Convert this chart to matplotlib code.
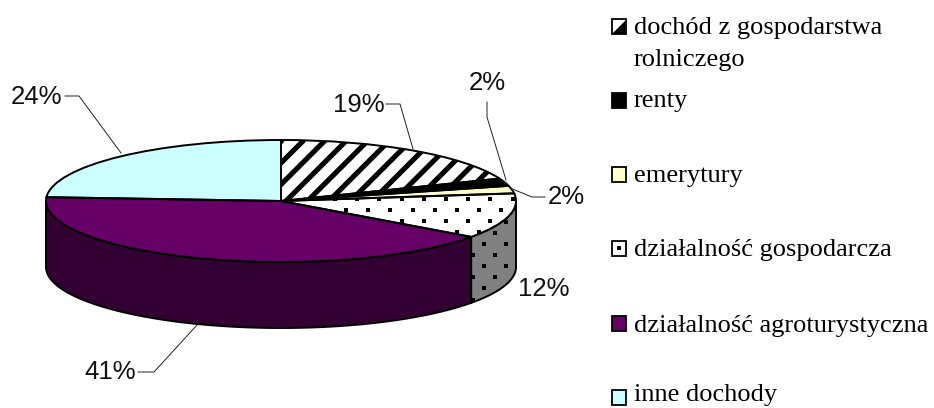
import numpy as np
import matplotlib
matplotlib.use('Agg')
import matplotlib.pyplot as plt
from matplotlib.patches import Rectangle

labels = ['dochód z gospodarstwa\nrolniczego', 'renty', 'emerytury',
          'działalność gospodarcza', 'działalność agroturystyczna', 'inne dochody']
values = [19, 2, 2, 12, 41, 24]
top_colors = ['#FFFFFF', '#000000', '#FFFFCC', '#FFFFFF', '#660066', '#CCFFFF']
side_colors = ['#808080', '#000000', '#808080', '#808080', '#330033', '#668080']

W, H = 934, 408
CX, CY, A, B, D = 281, 201, 235, 61, 66

fig = plt.figure(figsize=(W / 100, H / 100), dpi=100)
ax = fig.add_axes([0, 0, 1, 1])


def X(px):
    return (np.asarray(px, float) - CX) / A


def Y(py):
    return (CY - np.asarray(py, float)) / B


# side walls (only the arcs facing the viewer)
cum = np.concatenate([[0], np.cumsum(values)]) / sum(values) * 360
side_polys = {}
for i in range(len(values)):
    lo, hi = max(cum[i], 90), min(cum[i + 1], 270)
    if hi <= lo:
        continue
    t = np.radians(np.linspace(lo, hi, 120))
    xs = np.sin(t)
    ys = np.cos(t)
    poly = ax.fill(np.r_[xs, xs[::-1]], np.r_[ys, ys[::-1] - D / B],
                   facecolor=side_colors[i], edgecolor='black', lw=1.4, zorder=1)[0]
    side_polys[i] = poly

wedges, _ = ax.pie(values, colors=top_colors, startangle=90, counterclock=False,
                   radius=1, wedgeprops=dict(edgecolor='none', lw=0, zorder=2))

# stripes on the first slice
for off in np.arange(0, 900, 21.5):
    x0 = off + 12
    ln, = ax.plot(X([x0, x0 + 120]), Y([260, 140]), color='black', lw=3.7,
                  solid_capstyle='butt', zorder=3)
    ln.set_clip_path(wedges[0])


def dots(patch, x0, y0):
    xs, ys = [], []
    for r in range(-20, 30):
        for c in range(-40, 40):
            xs.append(x0 + c * 22.2 + (r % 2) * 11.1)
            ys.append(y0 + r * 11.1)
    sc = ax.scatter(X(xs), Y(ys), marker='s', s=5.5, color='black', lw=0, zorder=3)
    sc.set_clip_path(patch)


dots(wedges[3], 346, 210)
dots(side_polys[3], 484, 244)

# outlines on top
ax.pie(values, colors=['none'] * len(values), startangle=90, counterclock=False, radius=1,
       wedgeprops=dict(edgecolor='black', lw=1.4, zorder=4, facecolor='none'))

ax.set_aspect('auto')
ax.set_xlim(X(0), X(W))
ax.set_ylim(Y(H), Y(0))
ax.axis('off')

# data labels with leader lines
pct_font = dict(family='Liberation Sans', fontsize=18.5, color='#111111', zorder=6, va='center')
pct_labels = [f'{v}%' for v in values]
label_pos = [(385, 105, 'right'), (506, 83, 'right'), (548, 197, 'left'),
             (570, 289, 'right'), (136, 372, 'right'), (62, 97, 'right')]
leaders = [[(386, 104), (400, 104), (413, 149)],
           [(487, 102), (487, 117), (506, 180)],
           [(510, 188), (532, 197), (545, 197)],
           None,
           [(138, 372), (154, 372), (197, 325)],
           [(65, 96), (79, 96), (121, 153)]]
for lab, (tx, ty, ha), path in zip(pct_labels, label_pos, leaders):
    ax.text(X(tx), Y(ty), lab, ha=ha, **pct_font)
    if path:
        p = np.array(path)
        ax.plot(X(p[:, 0]), Y(p[:, 1]), color='#222222', lw=0.7, zorder=5)

# legend
leg_font = dict(family='Liberation Serif', fontsize=19, color='black', va='baseline', ha='left')
leg_text_y = [(34, 66), (107,), (182,), (256,), (332,), (401.5,)]
swatch_top = [19, 93, 167, 241, 316, 390]
SW = 14.5
for i, lab in enumerate(labels):
    for line, ty in zip(lab.split('\n'), leg_text_y[i]):
        ax.text(X(634), Y(ty), line, **leg_font)
    sy = swatch_top[i]
    r = Rectangle((X(611.5), Y(sy + SW)), SW / A, SW / B, facecolor=top_colors[i],
                  edgecolor='black', lw=1.3, zorder=5)
    ax.add_patch(r)
    if i == 0:
        tri = ax.fill(X([612, 625, 625]), Y([sy + SW, sy + SW, sy + 2]), color='black', lw=0, zorder=6)[0]
    if i == 3:
        ax.scatter(X([611.5 + SW / 2]), Y([sy + SW / 2]), marker='s', s=5, color='black', lw=0, zorder=6)

fig.savefig('out.png', dpi=100, facecolor='white')
